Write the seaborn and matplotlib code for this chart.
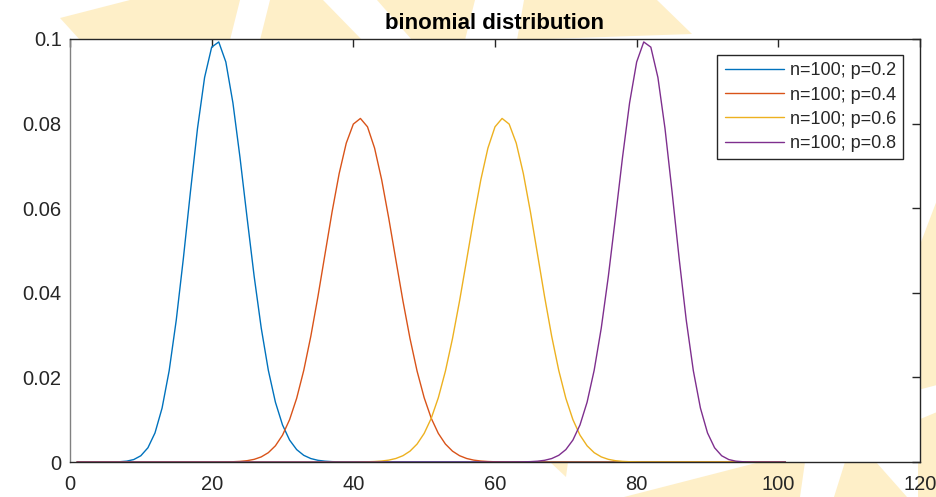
import numpy as np
import pandas as pd
import matplotlib
matplotlib.use("Agg")
import matplotlib.pyplot as plt
import seaborn as sns
from matplotlib.patches import Polygon

sns.set_theme(style="white")
plt.rcParams['font.family'] = ['Liberation Sans', 'DejaVu Sans']

# data (index 1..101, binomial pmf n=100)
labels = ["n=100; p=0.2", "n=100; p=0.4", "n=100; p=0.6", "n=100; p=0.8"]
colors = ["#0072BD", "#D95319", "#EDB120", "#7E2F8E"]
x_vals = np.arange(1, 102)

# non-zero stretch of each curve and the index it starts at
p02_start = 6
p02_vals = [0.0000150, 0.0000593, 0.000199, 0.000578, 0.001478, 0.003363, 0.006879,
            0.012754, 0.021584, 0.033532, 0.048062, 0.063832, 0.078851, 0.090898,
            0.098075, 0.099300, 0.094572, 0.084900, 0.071981, 0.057735, 0.043878,
            0.031643, 0.021681, 0.014131, 0.008771, 0.005190, 0.002930, 0.001579,
            0.000814, 0.000401, 0.000189, 0.0000856, 0.0000373, 0.0000156]

p04_start = 22
p04_vals = [0.0000268, 0.0000641, 0.000145, 0.000310, 0.000628, 0.001207, 0.002205,
            0.003832, 0.006343, 0.010008, 0.015066, 0.021657, 0.029751, 0.039084,
            0.049134, 0.059142, 0.068199, 0.075377, 0.079887, 0.081219, 0.079238,
            0.074207, 0.066729, 0.057630, 0.047811, 0.038110, 0.029191, 0.021488,
            0.015202, 0.010337, 0.006756, 0.004244, 0.002563, 0.001487, 0.000829,
            0.000444, 0.000229, 0.000113, 0.0000535, 0.0000244]

p06_start = 41
p06_vals = [0.0000244, 0.0000535, 0.000113, 0.000229, 0.000444, 0.000829, 0.001487,
            0.002563, 0.004244, 0.006756, 0.010337, 0.015202, 0.021488, 0.029191,
            0.038110, 0.047811, 0.057630, 0.066729, 0.074207, 0.079238, 0.081219,
            0.079887, 0.075377, 0.068199, 0.059142, 0.049134, 0.039084, 0.029751,
            0.021657, 0.015066, 0.010008, 0.006343, 0.003832, 0.002205, 0.001207,
            0.000628, 0.000310, 0.000145, 0.0000641, 0.0000268]

p08_start = 63
p08_vals = [0.0000156, 0.0000373, 0.0000856, 0.000189, 0.000401, 0.000814, 0.001579,
            0.002930, 0.005190, 0.008771, 0.014131, 0.021681, 0.031643, 0.043878,
            0.057735, 0.071981, 0.084900, 0.094572, 0.099300, 0.098075, 0.090898,
            0.078851, 0.063832, 0.048062, 0.033532, 0.021584, 0.012754, 0.006879,
            0.003363, 0.001478, 0.000578, 0.000199, 0.0000593, 0.0000150]

x_ticks = [0, 20, 40, 60, 80, 100, 120]
y_ticks = [0, 0.02, 0.04, 0.06, 0.08, 0.1]
y_ticklabels = ["0", "0.02", "0.04", "0.06", "0.08", "0.1"]


def full_series(start, vals):
    y = np.zeros(len(x_vals))
    y[start - 1:start - 1 + len(vals)] = vals
    return y


series = [full_series(p02_start, p02_vals), full_series(p04_start, p04_vals),
          full_series(p06_start, p06_vals), full_series(p08_start, p08_vals)]

df = pd.concat([pd.DataFrame({"x": x_vals, "y": s, "label": lab})
                for s, lab in zip(series, labels)], ignore_index=True)

W, H = 937, 497
fig = plt.figure(figsize=(W / 100, H / 100), dpi=100)
fig.patch.set_facecolor("white")

# faint watermark shapes behind the axes (pixel coords, y from top)
wm = [
    [(60, 18), (130, 0), (240, 0), (230, 40), (80, 40)],
    [(270, 0), (323, 0), (362, 40), (260, 40)],
    [(377, 0), (475, 0), (465, 40), (412, 40)],
    [(524, 0), (657, 0), (692, 34), (517, 40)],
    [(918, 250), (937, 200), (937, 385), (918, 390)],
    [(918, 420), (937, 412), (937, 497), (918, 497)],
    [(550, 462), (568, 462), (566, 477)],
    [(624, 497), (760, 462), (805, 462), (800, 497)],
    [(834, 497), (845, 462), (876, 462), (907, 497)],
]
for pts in wm:
    fig.patches.append(Polygon([(px / W, 1 - py / H) for px, py in pts], closed=True,
                               transform=fig.transFigure, facecolor="#FEEFC8",
                               edgecolor="none", zorder=-5))

ax = fig.add_axes([70 / W, 1 - 462 / H, 850 / W, 423 / H])
ax.set_facecolor("white")

sns.lineplot(data=df, x="x", y="y", hue="label", palette=colors, linewidth=1.0,
             ax=ax, legend=False)
for lab, c in zip(labels, colors):
    ax.plot([], [], color=c, linewidth=1.0, label=lab)

ax.set_xlim(0, 120)
ax.set_ylim(0, 0.1)
ax.set_xticks(x_ticks)
ax.set_yticks(y_ticks)
ax.set_yticklabels(y_ticklabels)
ax.set_xlabel("")
ax.set_ylabel("")
ax.tick_params(direction="in", length=6, width=1, colors="#262626", labelsize=14.5,
               top=True, right=True, labeltop=False, labelright=False)
ax.tick_params(axis="x", pad=9)
ax.tick_params(axis="y", pad=6)
for side in ["top", "right", "bottom"]:
    ax.spines[side].set_color("#262626")
    ax.spines[side].set_linewidth(1)
ax.spines["left"].set_color("#808080")
ax.spines["left"].set_linewidth(1)

ax.set_title("binomial distribution", fontsize=16, fontweight="bold", pad=7,
             color="black")

leg = ax.legend(loc="upper right", bbox_to_anchor=(0.98, 0.962), borderaxespad=0,
                fontsize=13, frameon=True, fancybox=False, framealpha=1,
                edgecolor="#262626", handlelength=3.3, handletextpad=0.3,
                labelspacing=0.4, borderpad=0.4)
leg.get_frame().set_linewidth(1)

fig.savefig("out.png", dpi=100)
